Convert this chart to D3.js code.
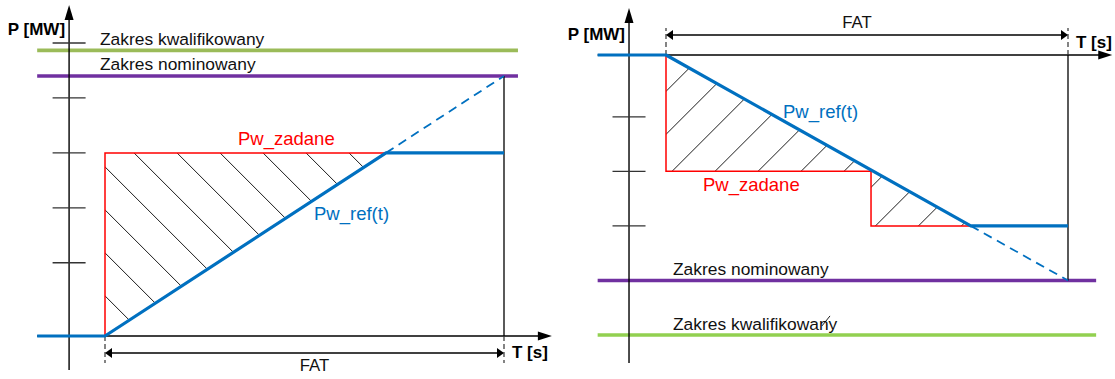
<!DOCTYPE html>
<html>
<head>
<meta charset="utf-8">
<script src="https://cdn.jsdelivr.net/npm/d3@7"></script>
<style>
  body { margin: 0; background: #fff; }
  svg text { font-family: "Liberation Sans", Arial, sans-serif; }
</style>
</head>
<body>
<svg id="chart" width="1115" height="379"></svg>
<script>
// Full activation time (FAT), in seconds of the schematic time axis
const FAT = 10;

// ---- Upward activation (left diagram) ----
const riseTicks = [4, 7, 10, 13, 16];
const riseBandNames = ["Zakres kwalifikowany", "Zakres nominowany"];
const riseBandValues = [15.6, 14.2];
const riseSetpoint = [[0, 0], [0, 10], [FAT, 10]];      // Pw_zadane
const riseReference = [[0, 0], [FAT, 14.2]];            // Pw_ref(t) ramp over FAT

// ---- Downward activation (right diagram) ----
const fallTicks = [6, 9, 12];
const fallBandNames = ["Zakres nominowany", "Zakres kwalifikowany"];
const fallBandValues = [3, 0];
const fallSetpoint = [[0, 15.4], [0, 9], [5.1, 9], [5.1, 6], [FAT, 6]];
const fallReference = [[0, 15.4], [FAT, 3]];
const fallHatchStub = [[3.88, 0.5], [4.08, 1.05]];

const svg = d3.select("#chart");
const BLUE = "#0070c0", RED = "#ff0000", PURPLE = "#7030a0";
const FONT_LABEL = "17.4px", FONT_SERIES = "18.5px", FONT_BOLD = "17px";

function triangle(g, tip, dir, len, half) {
  // dir: "up" | "right" | "left"
  const [tx, ty] = tip;
  let pts;
  if (dir === "up") pts = [[tx, ty], [tx - half, ty + len], [tx + half, ty + len]];
  else if (dir === "right") pts = [[tx, ty], [tx - len, ty - half], [tx - len, ty + half]];
  else pts = [[tx, ty], [tx + len, ty - half], [tx + len, ty + half]];
  g.append("path").attr("d", "M" + pts.join("L") + "Z").attr("fill", "#000");
}

function drawPanel(p) {
  const g = svg.append("g");
  const { x, y } = p;
  const p0 = p.reference[0][1], p1 = p.reference[1][1];
  const target = p.setpoint[p.setpoint.length - 1][1];
  // time at which the reference ramp reaches the final set-point
  const tc = FAT * (target - p0) / (p1 - p0);
  const ramp = t => p0 + (p1 - p0) * t / FAT;
  const line = d3.line().x(d => x(d[0])).y(d => y(d[1]));

  // Range bands
  p.bandValues.forEach((v, i) => {
    g.append("line")
      .attr("x1", x(p.leadT)).attr("x2", x(p.bandEndT))
      .attr("y1", y(v)).attr("y2", y(v))
      .attr("stroke", p.bandColors[i]).attr("stroke-width", 3.6);
    g.append("text")
      .attr("x", x(0) + p.bandLabelDx).attr("y", y(v) - 5.5)
      .attr("font-size", FONT_LABEL).attr("fill", "#111")
      .text(p.bandNames[i]);
  });

  // Power axis
  const ax = x(p.yAxisT);
  g.append("line").attr("x1", ax).attr("x2", ax)
    .attr("y1", y(p.yAxisSpan[0])).attr("y2", y(p.yAxisSpan[1]) + 8)
    .attr("stroke", "#000").attr("stroke-width", 1.4);
  triangle(g, [ax, y(p.yAxisSpan[1])], "up", 15, 4.5);
  g.selectAll(null).data(p.ticks).join("line")
    .attr("x1", ax - 16.5).attr("x2", ax + 16.5)
    .attr("y1", d => y(d)).attr("y2", d => y(d))
    .attr("stroke", "#333").attr("stroke-width", 1.3);
  g.append("text").attr("x", ax - 4).attr("y", p.yTitleY)
    .attr("text-anchor", "end").attr("font-size", FONT_BOLD).attr("font-weight", "bold")
    .text("P [MW]");

  // Time axis
  const by = y(p0);
  g.append("line").attr("x1", x(p.leadT)).attr("x2", x(p.axisEndT) - 8)
    .attr("y1", by).attr("y2", by)
    .attr("stroke", "#000").attr("stroke-width", 1.4);
  triangle(g, [x(p.axisEndT), by], "right", 14, 4.5);
  g.append("text").attr("x", x(FAT) + 8).attr("y", p.tTitleY)
    .attr("font-size", FONT_BOLD).attr("font-weight", "bold")
    .text("T [s]");

  // Hatched energy area between set-point and reference
  const poly = [p.reference[0], [tc, target]]
    .concat(p.setpoint.filter(d => d[0] < tc).reverse());
  const clipId = "clip-" + p.id;
  g.append("clipPath").attr("id", clipId)
    .append("path").attr("d", line(poly) + "Z");
  const hatch = g.append("g").attr("clip-path", `url(#${clipId})`);
  const xs = poly.map(d => x(d[0])), ys = poly.map(d => y(d[1]));
  const x0 = d3.min(xs), x1 = d3.max(xs), y0 = d3.min(ys), y1 = d3.max(ys);
  const cx = x(0), cy = y(p.setpoint[1][1]);
  const step = 43;
  if (p.hatchDir === "down") {
    // lines y - x = c
    const base = cy - cx + p.hatchPhase;
    for (let k = -40; k <= 40; k++) {
      const c = base + k * step;
      hatch.append("line")
        .attr("x1", x0 - 5).attr("y1", x0 - 5 + c)
        .attr("x2", x1 + 5).attr("y2", x1 + 5 + c)
        .attr("stroke", "#000").attr("stroke-width", 0.9);
    }
  } else {
    // lines x + y = c
    const base = cy + cx + p.hatchPhase;
    for (let k = -40; k <= 40; k++) {
      const c = base + k * step;
      hatch.append("line")
        .attr("x1", x0 - 5).attr("y1", c - (x0 - 5))
        .attr("x2", x1 + 5).attr("y2", c - (x1 + 5))
        .attr("stroke", "#000").attr("stroke-width", 0.9);
    }
  }

  // FAT end marker and dimension
  const dir = p.dimDir;
  g.append("line").attr("x1", x(FAT)).attr("x2", x(FAT))
    .attr("y1", y(p1)).attr("y2", by)
    .attr("stroke", "#000").attr("stroke-width", 1.3);
  [0, FAT].forEach(t => {
    g.append("line").attr("x1", x(t)).attr("x2", x(t))
      .attr("y1", by).attr("y2", by + dir * 27)
      .attr("stroke", "#333").attr("stroke-width", 1.2)
      .attr("stroke-dasharray", "5,3");
  });
  const dy = by + dir * p.dimGap;
  g.append("line").attr("x1", x(0) + 4).attr("x2", x(FAT) - 4)
    .attr("y1", dy).attr("y2", dy)
    .attr("stroke", "#000").attr("stroke-width", 1.3);
  triangle(g, [x(0), dy], "left", 7, 5);
  triangle(g, [x(FAT), dy], "right", 7, 5);
  g.append("text").attr("x", (x(0) + x(FAT)) / 2 + p.fatDx).attr("y", p.fatY)
    .attr("text-anchor", "middle").attr("font-size", "16.8px").attr("fill", "#111")
    .text("FAT");

  // Set-point Pw_zadane
  g.append("path").attr("d", line(p.setpoint))
    .attr("fill", "none").attr("stroke", RED).attr("stroke-width", 1.5);

  // Reference continuation beyond set-point (dashed)
  g.append("path").attr("d", line([[tc, target], p.reference[1]]))
    .attr("fill", "none").attr("stroke", BLUE).attr("stroke-width", 1.8)
    .attr("stroke-dasharray", "9,6");

  // Reference Pw_ref(t)
  const ref = [[p.leadT, p0], [0, p0], [tc, ramp(tc)], [FAT, target]];
  g.append("path").attr("d", line(ref))
    .attr("fill", "none").attr("stroke", BLUE).attr("stroke-width", 3.2)
    .attr("stroke-linejoin", "round");

  if (p.stub) {
    g.append("path").attr("d", line(p.stub))
      .attr("stroke", "#000").attr("stroke-width", 0.9);
  }

  // Series labels
  g.append("text").attr("x", p.zadanePos[0]).attr("y", p.zadanePos[1])
    .attr("font-size", FONT_SERIES).attr("fill", RED).text("Pw_zadane");
  g.append("text").attr("x", p.refPos[0]).attr("y", p.refPos[1])
    .attr("font-size", FONT_SERIES).attr("fill", BLUE).text("Pw_ref(t)");
}

drawPanel({
  id: "rise",
  x: d3.scaleLinear().domain([0, FAT]).range([105, 504]),
  y: d3.scaleLinear().domain([0, 16]).range([336, 43]),
  ticks: riseTicks,
  bandNames: riseBandNames, bandValues: riseBandValues,
  bandColors: ["#9bbb59", PURPLE],
  setpoint: riseSetpoint, reference: riseReference,
  leadT: -1.7, bandEndT: 10.35, axisEndT: 11.2, yAxisT: -0.9,
  yAxisSpan: [-1.86, 18.07],
  bandLabelDx: -5, yTitleY: 35, tTitleY: 358,
  hatchDir: "down", hatchPhase: -29,
  dimDir: 1, dimGap: 17, fatDx: 10, fatY: 371,
  zadanePos: [238, 145], refPos: [314, 220]
});

drawPanel({
  id: "fall",
  x: d3.scaleLinear().domain([0, FAT]).range([666, 1068]),
  y: d3.scaleLinear().domain([0, 15.4]).range([335, 55]),
  ticks: fallTicks,
  bandNames: fallBandNames, bandValues: fallBandValues,
  bandColors: [PURPLE, "#92d050"],
  setpoint: fallSetpoint, reference: fallReference,
  leadT: -1.7, bandEndT: 10.7, axisEndT: 11.1, yAxisT: -0.92,
  yAxisSpan: [-1.54, 17.98],
  bandLabelDx: 7, yTitleY: 40, tTitleY: 48,
  hatchDir: "up", hatchPhase: 6,
  dimDir: -1, dimGap: 20, fatDx: -10, fatY: 28,
  zadanePos: [703, 191], refPos: [783, 118],
  stub: fallHatchStub
});
</script>
</body>
</html>
